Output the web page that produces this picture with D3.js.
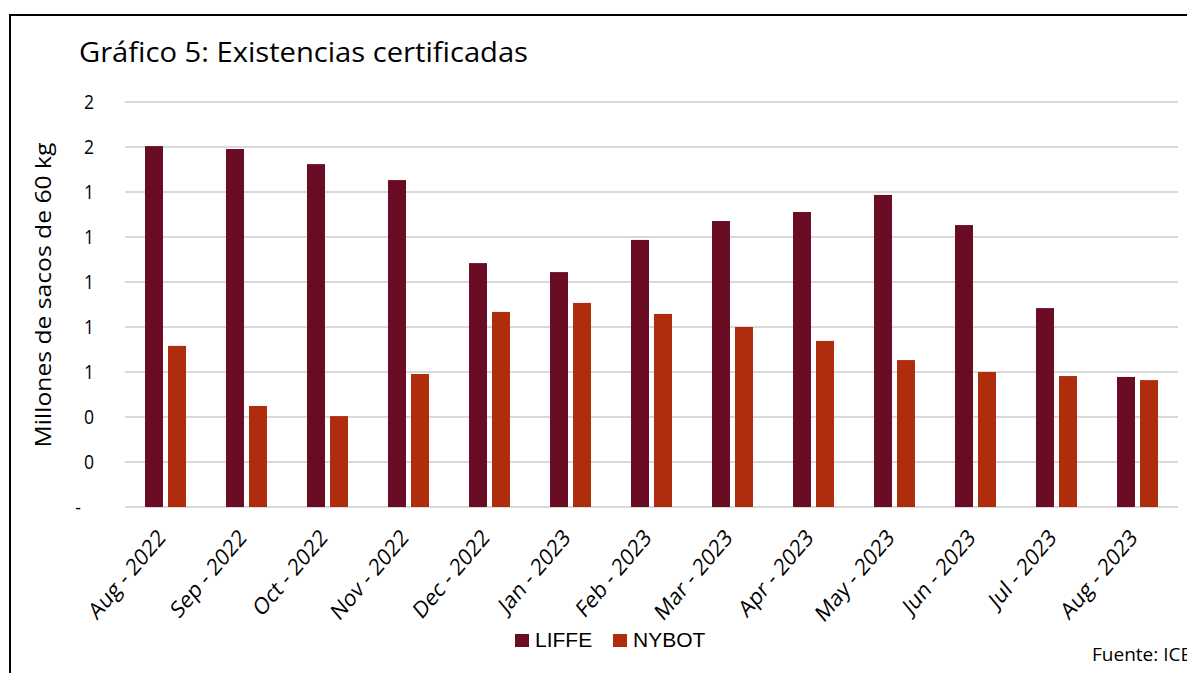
<!DOCTYPE html>
<html><head><meta charset="utf-8">
<script src="https://cdn.jsdelivr.net/npm/d3@7"></script>
<style>body{margin:0;background:#fff}svg{display:block}</style>
</head><body>
<svg id="c" width="1187" height="673"></svg>
<script>
const categories = ["Aug - 2022","Sep - 2022","Oct - 2022","Nov - 2022","Dec - 2022","Jan - 2023","Feb - 2023","Mar - 2023","Apr - 2023","May - 2023","Jun - 2023","Jul - 2023","Aug - 2023"];
const liffe = [1.604,1.591,1.524,1.453,1.084,1.044,1.187,1.271,1.311,1.387,1.253,0.884,0.578];
const nybot = [0.716,0.449,0.404,0.591,0.867,0.907,0.858,0.800,0.738,0.653,0.600,0.582,0.564];
const yTicks = [0,0.2,0.4,0.6,0.8,1.0,1.2,1.4,1.6,1.8];
const seriesNames = ["LIFFE","NYBOT"];
const colors = ["#6B0C25","#AE2D0D"];

const svg = d3.select("#c");
svg.append("path").attr("d","M10,673 V15 H1187").attr("fill","none").attr("stroke","#000").attr("stroke-width",2);

const x = d3.scaleBand().domain(categories).range([125,1178]).paddingInner(0).paddingOuter(0);
const y = d3.scaleLinear().domain([0,1.8]).range([507,102]);

svg.append("g").selectAll("line").data(yTicks).join("line")
  .attr("x1",125).attr("x2",1178).attr("y1",d=>y(d)).attr("y2",d=>y(d))
  .attr("stroke","#d9d9d9").attr("stroke-width",2);

const fmt = d => d===0 ? "-" : String(Math.round(d));
svg.append("g").selectAll("text").data(yTicks).join("text")
  .attr("transform",d=>`translate(${d===0?81:94},${y(d)}) scale(0.88,1)`).attr("dy","0.35em")
  .attr("text-anchor","end").attr("font-family","Open Sans").attr("font-size",20).attr("fill","#000")
  .text(fmt);

const bw = 18, gap = 5;
[liffe, nybot].forEach((vals,si)=>{
  svg.append("g").selectAll("rect").data(vals).join("rect")
    .attr("x",(d,i)=>x(categories[i]) + x.bandwidth()/2 - (bw*2+gap)/2 + si*(bw+gap))
    .attr("y",d=>y(d)).attr("width",bw).attr("height",d=>y(0)-y(d))
    .attr("fill",colors[si]);
});

svg.append("g").selectAll("text").data(categories).join("text")
  .attr("transform",d=>`translate(${x(d)+x.bandwidth()/2+1},${539}) scale(0.85,1) rotate(-45)`)
  .attr("text-anchor","end").attr("font-family","Open Sans").attr("font-size",23.5).attr("fill","#000")
  .text(d=>d);

svg.append("text").attr("x",79).attr("y",62).attr("font-family","Open Sans")
  .attr("font-size",27).attr("textLength",449).attr("lengthAdjust","spacingAndGlyphs")
  .attr("fill","#000").text("Gráfico 5: Existencias certificadas");

svg.append("text").attr("transform","translate(51,295) scale(0.88,1) rotate(-90)").attr("text-anchor","middle")
  .attr("font-family","Open Sans").attr("font-size",24.5).attr("textLength",305).attr("lengthAdjust","spacingAndGlyphs")
  .attr("fill","#000").text("Millones de sacos de 60 kg");

const lx = [515,613];
seriesNames.forEach((n,i)=>{
  svg.append("rect").attr("x",lx[i]).attr("y",634).attr("width",14).attr("height",13).attr("fill",colors[i]);
  svg.append("text").attr("x",lx[i]+20).attr("y",647).attr("font-family","Liberation Sans")
    .attr("font-size",21).attr("fill","#000").text(n);
});

svg.append("text").attr("x",1092).attr("y",661).attr("font-family","Open Sans")
  .attr("font-size",19).attr("fill","#000").text("Fuente: ICE");
</script>
</body></html>
